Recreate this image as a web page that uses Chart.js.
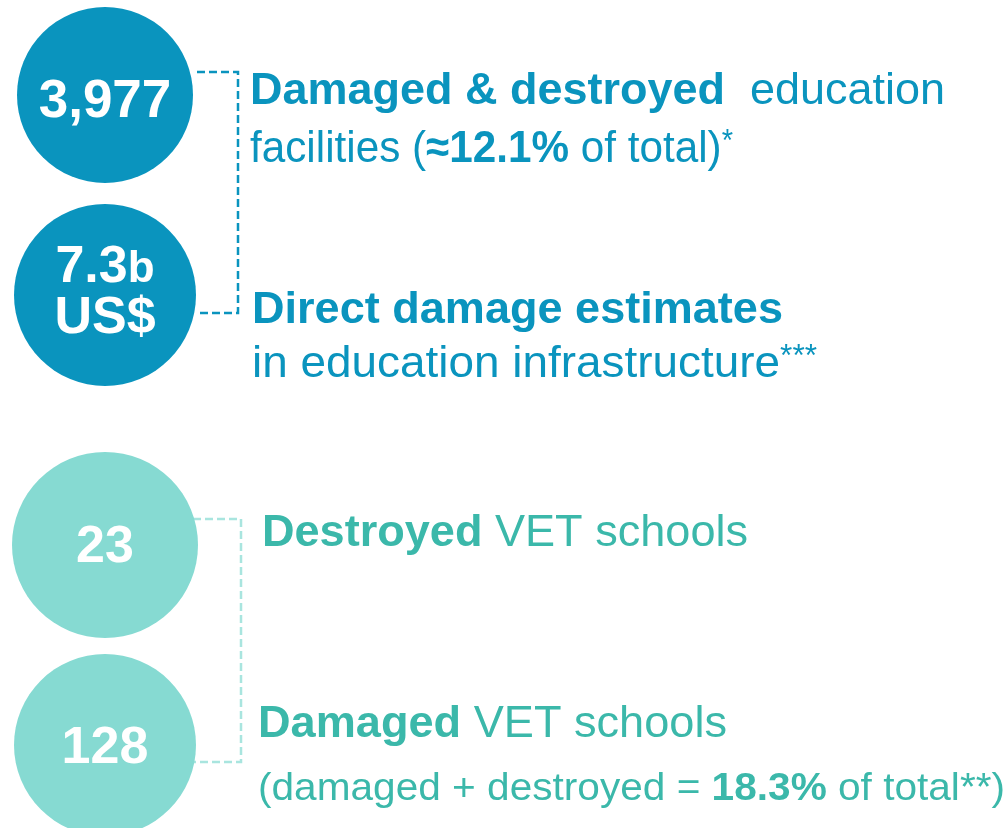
<!DOCTYPE html>
<html lang="en">

<head>
    <meta charset="UTF-8">
    <title>Damage to education facilities</title>
    <script src="https://cdn.jsdelivr.net/npm/chart.js"></script>
    <style>
        html, body { margin: 0; padding: 0; background: #ffffff; }
    </style>
</head>

<body>
    <canvas id="infoChart" width="1006" height="828"></canvas>

    <script>
        // ---- data ----
        const categories = ['Damaged & destroyed education facilities', 'Direct damage estimates',
            'Destroyed VET schools', 'Damaged VET schools'];
        const values = [3977, 7.3, 23, 128];
        const groupOf = [0, 0, 1, 1];
        // text in the bubbles: each line is [main, smaller suffix]
        const valueLabels = [[['3,977']], [['7.3', 'b'], ['US$']], [['23']], [['128']]];
        // text to the right: each line is a list of runs [text, b=bold | r=regular | s=superscript]
        const descriptions = [
            [[['Damaged & destroyed', 'b'], ['  education', 'r']],
             [['facilities (', 'r'], ['\u224812.1%', 'b'], [' of total)', 'r'], ['*', 's']]],
            [[['Direct damage estimates', 'b']],
             [['in education infrastructure', 'r'], ['***', 's']]],
            [[['Destroyed', 'b'], [' VET schools', 'r']]],
            [[['Damaged', 'b'], [' VET schools', 'r']],
             [['(damaged + destroyed = ', 'r'], ['18.3%', 'b'], [' of total**)', 'r']]]
        ];

        // ---- layout / style ----
        const FONT = "'Liberation Sans', Arial, sans-serif";
        const GROUP_GAP = 0.25;
        const circleColors = ['#0a94be', '#86dad2'];
        const textColors = ['#0a94be', '#3bb8aa'];
        const dashColors = ['#0a94be', '#a9e5df'];
        const radii = [88, 91, 93, 91];
        const valueSizes = [[53], [52, 52], [52], [52]];
        const valueDy = [[22], [-13, 38], [17], [18]];
        const textDx = [145, 147, 157, 153];
        const lineDy = [[9, 67], [28, 82], [1], [-8, 55]];
        const lineSizes = [[45, 45], [45, 45], [45], [45, 39]];
        const lineWidths = [[695, 483], [531, 565], [486], [469, 747]];
        const bracketDy = [[-23, 18], [-26, 17]];
        const bracketX = [[92, 133], [88, 136]];

        function runFont(style, size) {
            if (style === 's') return 'normal ' + Math.round(size * 0.68) + 'px ' + FONT;
            return (style === 'b' ? 'bold ' : 'normal ') + size + 'px ' + FONT;
        }

        function drawRuns(ctx, runs, x, y, size, width, color) {
            let natural = 0;
            runs.forEach(r => {
                ctx.font = runFont(r[1], size);
                natural += ctx.measureText(r[0]).width;
            });
            const sx = width ? width / natural : 1;
            ctx.save();
            ctx.translate(x, y);
            ctx.scale(sx, 1);
            ctx.fillStyle = color;
            ctx.textAlign = 'left';
            ctx.textBaseline = 'alphabetic';
            let cx = 0;
            runs.forEach(r => {
                ctx.font = runFont(r[1], size);
                const rise = r[1] === 's' ? -size * 0.24 : 0;
                ctx.fillText(r[0], cx, rise);
                cx += ctx.measureText(r[0]).width;
            });
            ctx.restore();
        }

        const infoPlugin = {
            id: 'infoText',
            beforeDatasetsDraw(chart) {
                const ctx = chart.ctx;
                const pts = chart.getDatasetMeta(0).data;
                [0, 1].forEach(g => {
                    const idx = groupOf.map((v, i) => v === g ? i : -1).filter(i => i >= 0);
                    const a = pts[idx[0]], b = pts[idx[idx.length - 1]];
                    const y1 = a.y + bracketDy[g][0], y2 = b.y + bracketDy[g][1];
                    const x1 = a.x + bracketX[g][0], x2 = a.x + bracketX[g][1];
                    ctx.save();
                    ctx.strokeStyle = dashColors[g];
                    ctx.lineWidth = 2.5;
                    ctx.setLineDash([8, 4]);
                    ctx.beginPath();
                    ctx.moveTo(x1, y1);
                    ctx.lineTo(x2, y1);
                    ctx.lineTo(x2, y2);
                    ctx.lineTo(x1, y2);
                    ctx.stroke();
                    ctx.restore();
                });
            },
            afterDatasetsDraw(chart) {
                const ctx = chart.ctx;
                const pts = chart.getDatasetMeta(0).data;
                pts.forEach((p, i) => {
                    // value inside the bubble
                    ctx.save();
                    ctx.fillStyle = '#ffffff';
                    ctx.textBaseline = 'alphabetic';
                    valueLabels[i].forEach((line, k) => {
                        const size = valueSizes[i][k];
                        ctx.font = 'bold ' + size + 'px ' + FONT;
                        const w1 = ctx.measureText(line[0]).width;
                        let w2 = 0;
                        if (line[1]) {
                            ctx.font = 'bold ' + Math.round(size * 0.85) + 'px ' + FONT;
                            w2 = ctx.measureText(line[1]).width;
                        }
                        const left = p.x - (w1 + w2) / 2;
                        ctx.textAlign = 'left';
                        ctx.font = 'bold ' + size + 'px ' + FONT;
                        ctx.fillText(line[0], left, p.y + valueDy[i][k]);
                        if (line[1]) {
                            ctx.font = 'bold ' + Math.round(size * 0.85) + 'px ' + FONT;
                            ctx.fillText(line[1], left + w1, p.y + valueDy[i][k]);
                        }
                    });
                    ctx.restore();

                    // description to the right
                    descriptions[i].forEach((runs, k) => {
                        drawRuns(ctx, runs, p.x + textDx[i], p.y + lineDy[i][k],
                            lineSizes[i][k], lineWidths[i][k], textColors[groupOf[i]]);
                    });
                });
            }
        };

        const points = values.map((v, i) => ({ x: 0, y: i + groupOf[i] * GROUP_GAP, v: v }));

        new Chart(document.getElementById('infoChart').getContext('2d'), {
            type: 'scatter',
            data: {
                labels: categories,
                datasets: [{
                    label: 'Education damage',
                    data: points,
                    pointRadius: c => radii[c.dataIndex],
                    pointHoverRadius: c => radii[c.dataIndex],
                    backgroundColor: c => circleColors[groupOf[c.dataIndex]],
                    borderWidth: 0,
                    clip: false
                }]
            },
            options: {
                responsive: false,
                animation: false,
                events: [],
                layout: { padding: 0, autoPadding: false },
                plugins: {
                    legend: { display: false },
                    tooltip: { enabled: false }
                },
                scales: {
                    x: { type: 'linear', min: -105, max: 901, display: false },
                    y: { type: 'linear', reverse: true, min: -0.475, max: 3.665, display: false }
                }
            },
            plugins: [infoPlugin]
        });
    </script>
</body>

</html>
